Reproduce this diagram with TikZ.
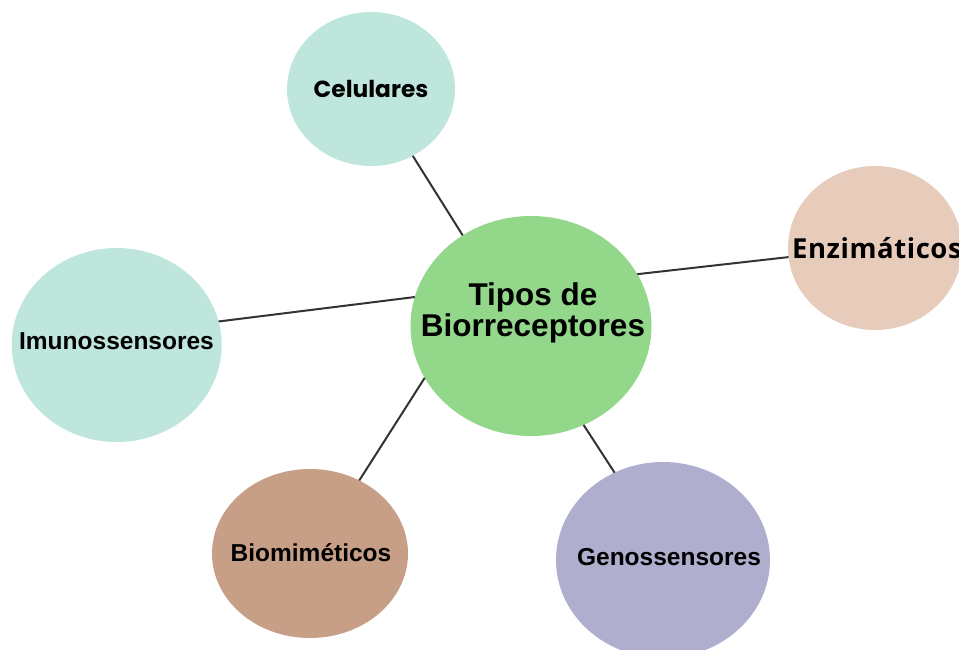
\documentclass[tikz,border=0pt]{standalone}
\usepackage{fontspec}
\setmainfont{Liberation Sans}
\newfontfamily\poppfont{Poppins}
\newfontfamily\openfont{Open Sans}[LetterSpace=2]
\definecolor{teal1}{HTML}{BEE6DD}
\definecolor{green1}{HTML}{92D78A}
\definecolor{peach1}{HTML}{E8CCBB}
\definecolor{brown1}{HTML}{C79F86}
\definecolor{lav1}{HTML}{AFAECE}
\definecolor{linec}{HTML}{333333}
\usetikzlibrary{shapes.geometric}
\tikzset{
  blob/.style={ellipse, draw=none, inner sep=0pt, outer sep=0pt},
  lab/.style={font=\bfseries\fontsize{24.5}{28}\selectfont, text=black},
  conn/.style={draw=linec, line width=2pt}
}
\begin{document}
\begin{tikzpicture}[x=1pt,y=-1pt]
\clip (0,0) rectangle (959,650);
% shapes
\node[blob, fill=green1, minimum width=241pt, minimum height=220pt] (c) at (531,326) {};
\node[blob, fill=teal1, minimum width=168pt, minimum height=154pt] (cel) at (371,89) {};
\node[blob, fill=peach1, minimum width=174pt, minimum height=164pt] (enz) at (875,248) {};
\node[blob, fill=teal1, minimum width=210pt, minimum height=194pt] (imu) at (116.7,345) {};
\node[blob, fill=brown1, minimum width=196pt, minimum height=169pt] (bio) at (310,553.5) {};
\node[blob, fill=lav1, minimum width=214pt, minimum height=196pt] (gen) at (663,560) {};
% connectors
\draw[conn] (cel.302.5) -- (c.127.1);
\draw[conn] (c.26.1) -- (enz.186.6);
\draw[conn] (imu.13.1) -- (c.166.5);
\draw[conn] (bio.56.5) -- (c.206.8);
\draw[conn] (c.298.6) -- (gen.119);
% labels
\node[align=center, font=\bfseries\fontsize{31.5}{31.5}\selectfont] (tc) at (533,313) {Tipos de\\Biorreceptores};
\node[font=\poppfont\bfseries\fontsize{23.3}{26}\selectfont] (tcel) at (371,89) {Celulares};
\node[anchor=west, inner sep=0pt, font=\openfont\bfseries\fontsize{27.5}{30}\selectfont] (tenz) at (792,248) {Enzimáticos};
\node[lab] (timu) at (116.5,341) {Imunossensores};
\node[lab] (tbio) at (311,553) {Biomiméticos};
\node[lab] (tgen) at (669,557) {Genossensores};
\end{tikzpicture}
\end{document}
